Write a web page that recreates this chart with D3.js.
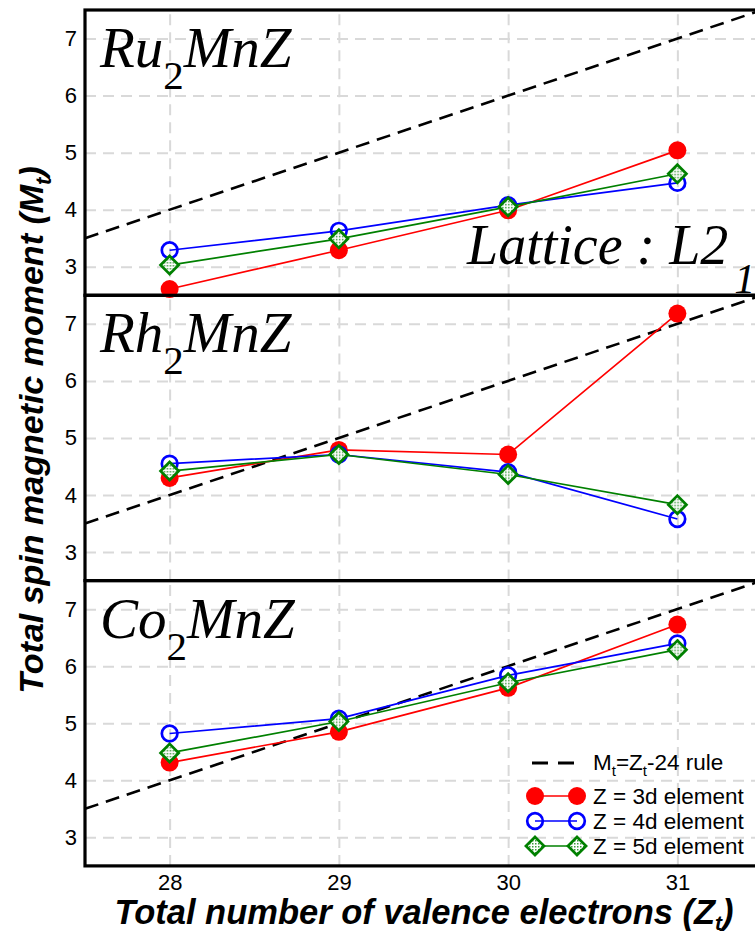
<!DOCTYPE html>
<html>
<head>
<meta charset="utf-8">
<script src="https://cdn.jsdelivr.net/npm/d3@7"></script>
<style>
  html, body { margin: 0; padding: 0; background: #fff; overflow: hidden; }
  svg { display: block; }
  text { font-family: "Liberation Sans", Arial, sans-serif; }
</style>
</head>
<body>
<div class="chart"></div>
<script>
var WIDTH = 755;
var HEIGHT = 936;
var PLOT_LEFT = 85;
var PLOT_RIGHT = 762;   // right frame runs past the canvas edge
var PLOT_TOP = 10;
var PANEL_HEIGHT = 285.3;

// x values: total number of valence electrons
var zt = [28, 29, 30, 31];
var xTicks = [28, 29, 30, 31];
var yTicks = [3, 4, 5, 6, 7];

// Ru2MnZ
var ru3d = [2.61, 3.29, 3.99, 5.04];
var ru4d = [3.29, 3.63, 4.08, 4.47];
var ru5d = [3.03, 3.49, 4.05, 4.63];
// Rh2MnZ
var rh3d = [4.30, 4.79, 4.71, 7.18];
var rh4d = [4.55, 4.71, 4.40, 3.58];
var rh5d = [4.42, 4.71, 4.36, 3.83];
// Co2MnZ
var co3d = [4.31, 4.85, 5.62, 6.73];
var co4d = [4.82, 5.08, 5.84, 6.40];
var co5d = [4.48, 5.03, 5.71, 6.29];

// Slater-Pauling line end points
var ruleX = [27.5, 31.5];

var panels = [
    {host: 'Ru', series: [ru3d, ru4d, ru5d]},
    {host: 'Rh', series: [rh3d, rh4d, rh5d]},
    {host: 'Co', series: [co3d, co4d, co5d]}
];
var seriesColours = ['#ff0000', '#0000ff', '#008000'];
var seriesNames = ['Z = 3d element', 'Z = 4d element', 'Z = 5d element'];

var svg = d3.select('.chart')
    .append('svg')
    .attr('width', WIDTH)
    .attr('height', HEIGHT);

// hatched fill for the green diamonds
var pat = svg.append('defs').append('pattern')
    .attr('id', 'hatch')
    .attr('patternUnits', 'userSpaceOnUse')
    .attr('width', 3)
    .attr('height', 3);
pat.append('rect').attr('width', 3).attr('height', 3).attr('fill', '#ffffff');
pat.append('rect').attr('width', 1.5).attr('height', 1.5).attr('fill', '#3c9a3c');

var x = d3.scaleLinear().domain([27.5, 31.5]).range([PLOT_LEFT, PLOT_RIGHT]);

var diamond = d3.symbol().type(d3.symbolDiamond2).size(210);

function drawMarker(sel, k, cx, cy) {
    if (k == 0) {
        sel.append('circle').attr('cx', cx).attr('cy', cy).attr('r', 9)
            .attr('fill', seriesColours[0]);
    } else if (k == 1) {
        sel.append('circle').attr('cx', cx).attr('cy', cy).attr('r', 7.8)
            .attr('fill', 'none').attr('stroke', seriesColours[1]).attr('stroke-width', 2.7);
    } else {
        sel.append('path').attr('d', diamond)
            .attr('transform', 'translate(' + cx + ',' + cy + ')')
            .attr('fill', 'url(#hatch)').attr('stroke', seriesColours[2]).attr('stroke-width', 2.7);
    }
}

for (var p = 0; p < panels.length; p++) {
    var panelTop = PLOT_TOP + p * PANEL_HEIGHT;
    var y = d3.scaleLinear().domain([2.5, 7.5]).range([panelTop + PANEL_HEIGHT, panelTop]);
    var g = svg.append('g');

    // grid
    g.append('g')
        .attr('transform', 'translate(' + PLOT_LEFT + ',0)')
        .call(d3.axisLeft(y).tickValues(yTicks).tickSize(-(PLOT_RIGHT - PLOT_LEFT)).tickPadding(8).tickFormat(d3.format('d')))
        .call(function(a) {
            a.select('.domain').remove();
            a.selectAll('line').attr('stroke', '#d9d9d9').attr('stroke-width', 2).attr('stroke-dasharray', '11,7');
            a.selectAll('text').attr('font-size', 22).attr('fill', '#000')
                .style('font-family', '"Liberation Sans", Arial, sans-serif');
        });
    g.append('g')
        .attr('transform', 'translate(0,' + (panelTop + PANEL_HEIGHT) + ')')
        .call(d3.axisBottom(x).tickValues(xTicks).tickSize(-PANEL_HEIGHT).tickPadding(8).tickFormat(d3.format('d')))
        .call(function(a) {
            a.select('.domain').remove();
            a.selectAll('line').attr('stroke', '#d9d9d9').attr('stroke-width', 2).attr('stroke-dasharray', '11,7');
            a.selectAll('text').attr('font-size', 22).attr('fill', '#000')
                .style('font-family', '"Liberation Sans", Arial, sans-serif')
                .style('display', p == panels.length - 1 ? null : 'none');
        });

    // Mt = Zt - 24 rule
    g.append('line')
        .attr('x1', x(ruleX[0])).attr('y1', y(ruleX[0] - 24))
        .attr('x2', x(ruleX[1])).attr('y2', y(ruleX[1] - 24))
        .attr('stroke', '#000').attr('stroke-width', 2.6).attr('stroke-dasharray', '14,8');

    var line = d3.line().x((d, i) => x(zt[i])).y((d) => y(d));
    panels[p].series.forEach(function(vals, k) {
        g.append('path').datum(vals)
            .attr('d', line)
            .attr('fill', 'none')
            .attr('stroke', seriesColours[k])
            .attr('stroke-width', 1.7);
    });

    // frame
    g.append('rect')
        .attr('x', PLOT_LEFT).attr('y', panelTop)
        .attr('width', PLOT_RIGHT - PLOT_LEFT).attr('height', PANEL_HEIGHT)
        .attr('fill', 'none').attr('stroke', '#000').attr('stroke-width', 3.2);

    panels[p].series.forEach(function(vals, k) {
        vals.forEach(function(v, i) {
            drawMarker(g, k, x(zt[i]), y(v));
        });
    });

    // compound label
    var lab = g.append('text')
        .attr('x', 100).attr('y', panelTop + 57)
        .style('font-family', '"Liberation Serif", "Times New Roman", serif')
        .attr('font-size', 57).attr('font-style', 'italic');
    lab.append('tspan').text(panels[p].host);
    lab.append('tspan').attr('font-size', 41).attr('font-style', 'normal').attr('dy', 22).text('2');
    lab.append('tspan').attr('dy', -22).text('MnZ');
}

// lattice label
var lat = svg.append('text')
    .attr('x', 467).attr('y', 264)
    .style('font-family', '"Liberation Serif", "Times New Roman", serif')
    .attr('font-size', 56).attr('font-style', 'italic');
lat.append('tspan').text('Lattice : L2');
lat.append('tspan').attr('font-size', 42).attr('dx', 6).attr('dy', 29).text('1');

// axis titles
var yTitle = svg.append('text')
    .attr('transform', 'translate(43,430)rotate(-90)')
    .attr('text-anchor', 'middle')
    .attr('font-size', 34).attr('font-weight', 'bold').attr('font-style', 'italic');
yTitle.append('tspan').text('Total spin magnetic moment (M');
yTitle.append('tspan').attr('font-size', 22).attr('dy', 8).text('t');
yTitle.append('tspan').attr('dy', -8).text(')');

var xTitle = svg.append('text')
    .attr('x', 424).attr('y', 924)
    .attr('text-anchor', 'middle')
    .attr('font-size', 34.5).attr('font-weight', 'bold').attr('font-style', 'italic');
xTitle.append('tspan').text('Total number of valence electrons (Z');
xTitle.append('tspan').attr('font-size', 21).attr('dy', 6).text('t');
xTitle.append('tspan').attr('dy', -6).text(')');

// legend
var legend = svg.append('g');
var LX1 = 535, LX2 = 577, LTX = 593;
legend.append('line')
    .attr('x1', LX1 - 3).attr('y1', 763).attr('x2', LX2 + 3).attr('y2', 763)
    .attr('stroke', '#000').attr('stroke-width', 2.8).attr('stroke-dasharray', '16,10');
var rule = legend.append('text').attr('x', LTX).attr('y', 770).attr('font-size', 22.5);
rule.append('tspan').text('M');
rule.append('tspan').attr('font-size', 15).attr('dy', 6).text('t');
rule.append('tspan').attr('dy', -6).text('=Z');
rule.append('tspan').attr('font-size', 15).attr('dy', 6).text('t');
rule.append('tspan').attr('dy', -6).text('-24 rule');

seriesNames.forEach(function(name, k) {
    var ly = 796 + k * 25;
    legend.append('line')
        .attr('x1', LX1).attr('y1', ly).attr('x2', LX2).attr('y2', ly)
        .attr('stroke', seriesColours[k]).attr('stroke-width', 1.7);
    drawMarker(legend, k, LX1, ly);
    drawMarker(legend, k, LX2, ly);
    legend.append('text').attr('x', LTX).attr('y', ly + 8).attr('font-size', 22.5).text(name);
});
</script>
</body>
</html>
